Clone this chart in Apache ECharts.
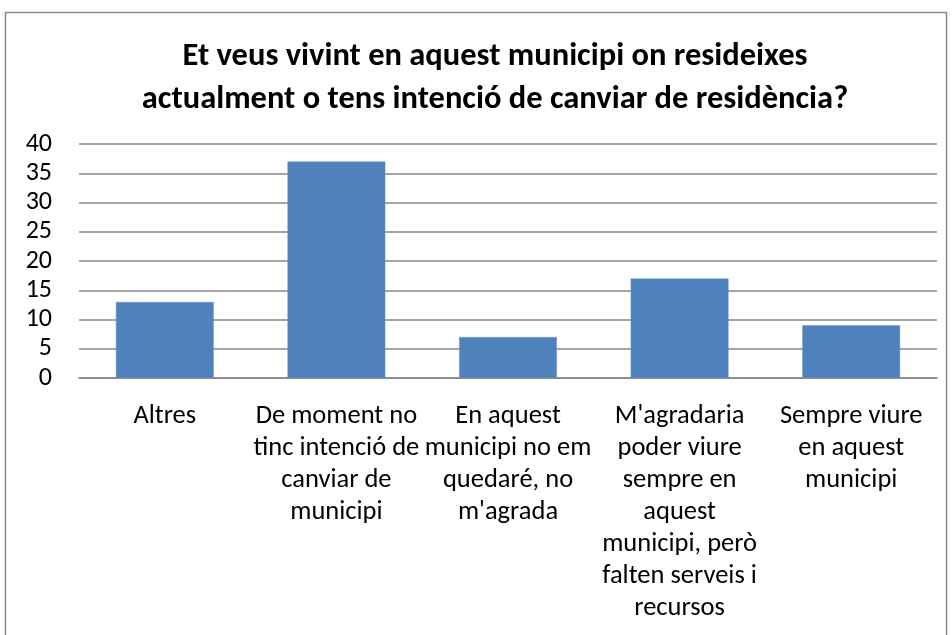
<!DOCTYPE html>
<html>
<head>
<meta charset="utf-8">
<script src="https://cdn.jsdelivr.net/npm/echarts@6/dist/echarts.min.js"></script>
<style>
  html, body { margin: 0; padding: 0; background: #fff; }
  #chart { width: 952px; height: 635px; }
</style>
</head>
<body>
<div id="chart"></div>
<script>
const titleText = 'Et veus vivint en aquest municipi on resideixes\nactualment o tens intenció de canviar de residència?'

const categories = [
  'Altres',
  'De moment no\ntinc intenció de\ncanviar de\nmunicipi',
  'En aquest\nmunicipi no em\nquedaré, no\nm\'agrada',
  'M\'agradaria\npoder viure\nsempre en\naquest\nmunicipi, però\nfalten serveis i\nrecursos',
  'Sempre viure\nen aquest\nmunicipi'
]

const values = [13, 37, 7, 17, 9]

const FONT = 'Carlito, Calibri, "Open Sans", "Noto Sans", sans-serif'

const chart = echarts.init(document.getElementById('chart'))

chart.setOption({
  animation: false,
  textStyle: { fontFamily: FONT },
  graphic: [
    {
      type: 'rect',
      shape: { x: 5.5, y: 12.5, width: 941, height: 640 },
      style: { fill: 'none', stroke: '#8c8c8c', lineWidth: 1.5 },
      silent: true
    }
  ],
  title: {
    text: titleText,
    left: 490,
    top: 30,
    textAlign: 'center',
    textStyle: {
      fontFamily: FONT,
      fontSize: 32.5,
      fontWeight: 'bold',
      color: '#000',
      lineHeight: 43
    }
  },
  grid: {
    left: 79,
    right: 15,
    top: 144,
    bottom: 257,
    containLabel: false
  },
  xAxis: {
    type: 'category',
    data: categories,
    axisLine: { show: true, lineStyle: { color: '#868686', width: 1.5 } },
    axisTick: { show: false },
    axisLabel: {
      color: '#000',
      fontFamily: FONT,
      fontSize: 26.5,
      lineHeight: 32,
      margin: 22,
      interval: 0,
      align: 'center'
    }
  },
  yAxis: {
    type: 'value',
    min: 0,
    max: 40,
    interval: 5,
    axisLine: { show: false },
    axisTick: { show: false },
    splitLine: { lineStyle: { color: '#868686', width: 1.5 } },
    axisLabel: {
      color: '#000',
      fontFamily: FONT,
      fontSize: 26,
      margin: 27
    }
  },
  series: [
    {
      type: 'bar',
      data: values,
      barWidth: '57%',
      itemStyle: { color: '#4f81bd', borderColor: '#6f97c9', borderWidth: 0.5 }
    }
  ]
})
</script>
</body>
</html>
